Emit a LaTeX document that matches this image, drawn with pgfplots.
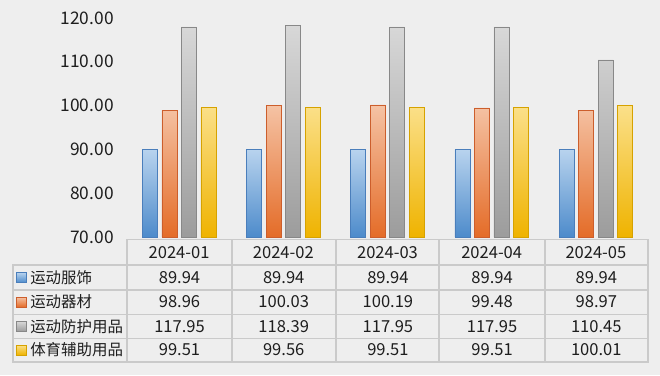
\documentclass[border=0pt]{standalone}
\usepackage{pgfplots}
\usepackage{pgfplotstable}
\pgfplotsset{compat=1.18}
\usepackage{fontspec}
\setmainfont{Noto Sans CJK SC}

\definecolor{bg}{HTML}{EEEEEE}
\definecolor{tbl}{HTML}{CACACA}
\definecolor{txt}{HTML}{1E1E1E}
\definecolor{blueT}{HTML}{B8D3EE}
\definecolor{blueB}{HTML}{4D8BCB}
\definecolor{blueE}{HTML}{4A7EBB}
\definecolor{orT}{HTML}{F5C3A5}
\definecolor{orB}{HTML}{E46C28}
\definecolor{orE}{HTML}{CC5E2C}
\definecolor{grT}{HTML}{D8D8D8}
\definecolor{grB}{HTML}{9C9C9C}
\definecolor{grE}{HTML}{888888}
\definecolor{yeT}{HTML}{FBE08A}
\definecolor{yeB}{HTML}{EFB300}
\definecolor{yeE}{HTML}{D6A200}

\pgfplotstableread{
x a b c d
0 89.94 98.96 117.95 99.51
1 89.94 100.03 118.39 99.56
2 89.94 100.19 117.95 99.51
3 89.94 99.48 117.95 99.51
4 89.94 98.97 110.45 100.01
}\datatable

\begin{document}
\begin{tikzpicture}[x=0.75pt,y=-0.75pt]
\fill[bg] (0,0) rectangle (660,375);
\begin{axis}[
  at={(95.25pt,-177.75pt)}, anchor=south west,
  scale only axis, width=390.75pt, height=164.25pt,
  xmin=-0.5, xmax=4.5, ymin=70, ymax=120,
  ytick={70,80,...,120},
  xtick={0,1,2,3,4},
  xticklabels={2024-01,2024-02,2024-03,2024-04,2024-05},
  axis line style={draw=none},
  major tick length=0pt,
  clip=false,
  yticklabel style={/pgf/number format/fixed, /pgf/number format/fixed zerofill, /pgf/number format/precision=2, /pgf/number format/assume math mode=true, anchor=east, xshift=-6.5pt, font=\fontsize{13}{15}\selectfont, text=txt},
  xticklabel style={anchor=center, yshift=-11.6pt, font=\fontsize{12.4}{14}\selectfont, text=txt},
]
\addplot[ybar, bar width=11.25pt, bar shift=-22pt, draw=blueE, top color=blueT, bottom color=blueB] table[x=x,y=a]{\datatable};
\addplot[ybar, bar width=11.25pt, bar shift=-7.3pt, draw=orE, top color=orT, bottom color=orB] table[x=x,y=b]{\datatable};
\addplot[ybar, bar width=11.25pt, bar shift=7.3pt, draw=grE, top color=grT, bottom color=grB] table[x=x,y=c]{\datatable};
\addplot[ybar, bar width=11.25pt, bar shift=22pt, draw=yeE, top color=yeT, bottom color=yeB] table[x=x,y=d]{\datatable};
\end{axis}
% table grid
\draw[tbl, line width=0.8pt] (127,239.5) rectangle (648,362);
\draw[tbl, line width=0.8pt] (13,265) rectangle (127,362);
\foreach \xx in {232,336,439,545} \draw[tbl, line width=0.8pt] (\xx,239.5) -- (\xx,362);
\foreach \yy in {265,290,314.3,338.3} \draw[tbl, line width=0.8pt] (13,\yy) -- (648,\yy);
% row labels
\foreach \yy/\lab/\cT/\cB/\cE in {277.5/运动服饰/blueT/blueB/blueE, 302/运动器材/orT/orB/orE, 326.3/运动防护用品/grT/grB/grE, 350/体育辅助用品/yeT/yeB/yeE}{
  \draw[\cE, top color=\cT, bottom color=\cB] (16,\yy-5) rectangle (26,\yy+5);
  \node[anchor=west, inner sep=0pt, text=txt, font=\fontsize{11.6}{13}\selectfont] at (30,\yy) {\lab};
}
% cell values
\foreach \r in {0,...,4}{
  \foreach \c/\yy in {a/277.5, b/302, c/326.3, d/350}{
    \pgfplotstablegetelem{\r}{\c}\of\datatable
    \node[inner sep=0pt, text=txt, font=\fontsize{12.4}{14}\selectfont] at ({179.5+104.2*\r},\yy) {\pgfplotsretval};
  }
}
\end{tikzpicture}
\end{document}
